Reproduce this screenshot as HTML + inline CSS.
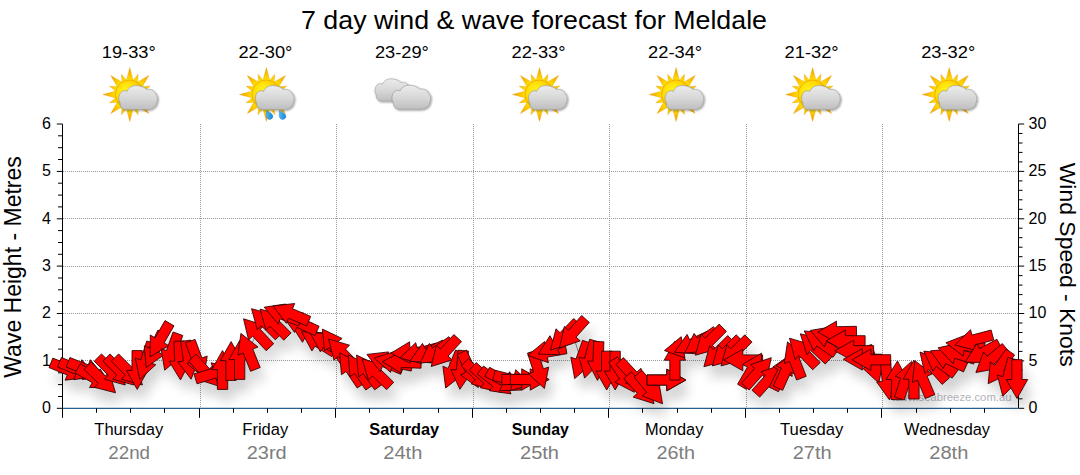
<!DOCTYPE html><html><head><meta charset="utf-8"><style>html,body{margin:0;padding:0;background:#fff}svg{display:block}text{font-family:"Liberation Sans",sans-serif}</style></head><body>
<svg width="1080" height="475" viewBox="0 0 1080 475">
<defs><linearGradient id="cg" x1="0" y1="0" x2="0" y2="1"><stop offset="0" stop-color="#ececec"/><stop offset="0.55" stop-color="#d6d6d6"/><stop offset="1" stop-color="#bebebe"/></linearGradient><radialGradient id="sg" cx="0.38" cy="0.38" r="0.7"><stop offset="0" stop-color="#fff61e"/><stop offset="0.55" stop-color="#ffd800"/><stop offset="1" stop-color="#f2a200"/></radialGradient><radialGradient id="rg" gradientUnits="userSpaceOnUse" cx="0" cy="0" r="27"><stop offset="0.5" stop-color="#ffe600"/><stop offset="0.75" stop-color="#fbc000"/><stop offset="1" stop-color="#ee9a00"/></radialGradient><linearGradient id="dg" x1="0" y1="0" x2="1" y2="1"><stop offset="0" stop-color="#6cc8f8"/><stop offset="1" stop-color="#0c7fd0"/></linearGradient><filter id="cs" x="-20%" y="-20%" width="140%" height="150%"><feGaussianBlur in="SourceAlpha" stdDeviation="0.9"/><feOffset dx="0.8" dy="1.2"/><feComponentTransfer><feFuncA type="linear" slope="0.42"/></feComponentTransfer><feMerge><feMergeNode/><feMergeNode in="SourceGraphic"/></feMerge></filter><filter id="sh" x="-20%" y="-20%" width="140%" height="160%"><feGaussianBlur in="SourceAlpha" stdDeviation="6"/><feOffset dx="5" dy="12"/><feComponentTransfer><feFuncA type="linear" slope="0.18"/></feComponentTransfer></filter></defs>
<rect width="1080" height="475" fill="#fff"/>
<text x="534" y="29" font-size="26" text-anchor="middle" fill="#000" textLength="466" lengthAdjust="spacingAndGlyphs">7 day wind &amp; wave forecast for Meldale</text>
<line x1="62.5" x2="1018.5" y1="360.9" y2="360.9" stroke="#999" stroke-width="1" stroke-dasharray="1 1" shape-rendering="crispEdges"/>
<line x1="62.5" x2="1018.5" y1="313.5" y2="313.5" stroke="#999" stroke-width="1" stroke-dasharray="1 1" shape-rendering="crispEdges"/>
<line x1="62.5" x2="1018.5" y1="266.1" y2="266.1" stroke="#999" stroke-width="1" stroke-dasharray="1 1" shape-rendering="crispEdges"/>
<line x1="62.5" x2="1018.5" y1="218.8" y2="218.8" stroke="#999" stroke-width="1" stroke-dasharray="1 1" shape-rendering="crispEdges"/>
<line x1="62.5" x2="1018.5" y1="171.4" y2="171.4" stroke="#999" stroke-width="1" stroke-dasharray="1 1" shape-rendering="crispEdges"/>
<line x1="200.5" x2="200.5" y1="124.0" y2="408.3" stroke="#999" stroke-width="1" stroke-dasharray="1 1" shape-rendering="crispEdges"/>
<line x1="336.5" x2="336.5" y1="124.0" y2="408.3" stroke="#999" stroke-width="1" stroke-dasharray="1 1" shape-rendering="crispEdges"/>
<line x1="473.5" x2="473.5" y1="124.0" y2="408.3" stroke="#999" stroke-width="1" stroke-dasharray="1 1" shape-rendering="crispEdges"/>
<line x1="609.5" x2="609.5" y1="124.0" y2="408.3" stroke="#999" stroke-width="1" stroke-dasharray="1 1" shape-rendering="crispEdges"/>
<line x1="746.5" x2="746.5" y1="124.0" y2="408.3" stroke="#999" stroke-width="1" stroke-dasharray="1 1" shape-rendering="crispEdges"/>
<line x1="882.5" x2="882.5" y1="124.0" y2="408.3" stroke="#999" stroke-width="1" stroke-dasharray="1 1" shape-rendering="crispEdges"/>
<line x1="62.5" x2="62.5" y1="124.0" y2="408.3" stroke="#000" stroke-width="1"/>
<line x1="56.8" x2="62.5" y1="408.3" y2="408.3" stroke="#000" stroke-width="1"/>
<line x1="58.0" x2="62.5" y1="396.5" y2="396.5" stroke="#000" stroke-width="1"/>
<line x1="58.0" x2="62.5" y1="384.6" y2="384.6" stroke="#000" stroke-width="1"/>
<line x1="58.0" x2="62.5" y1="372.8" y2="372.8" stroke="#000" stroke-width="1"/>
<line x1="56.8" x2="62.5" y1="360.9" y2="360.9" stroke="#000" stroke-width="1"/>
<line x1="58.0" x2="62.5" y1="349.1" y2="349.1" stroke="#000" stroke-width="1"/>
<line x1="58.0" x2="62.5" y1="337.2" y2="337.2" stroke="#000" stroke-width="1"/>
<line x1="58.0" x2="62.5" y1="325.4" y2="325.4" stroke="#000" stroke-width="1"/>
<line x1="56.8" x2="62.5" y1="313.5" y2="313.5" stroke="#000" stroke-width="1"/>
<line x1="58.0" x2="62.5" y1="301.7" y2="301.7" stroke="#000" stroke-width="1"/>
<line x1="58.0" x2="62.5" y1="289.8" y2="289.8" stroke="#000" stroke-width="1"/>
<line x1="58.0" x2="62.5" y1="278.0" y2="278.0" stroke="#000" stroke-width="1"/>
<line x1="56.8" x2="62.5" y1="266.1" y2="266.1" stroke="#000" stroke-width="1"/>
<line x1="58.0" x2="62.5" y1="254.3" y2="254.3" stroke="#000" stroke-width="1"/>
<line x1="58.0" x2="62.5" y1="242.5" y2="242.5" stroke="#000" stroke-width="1"/>
<line x1="58.0" x2="62.5" y1="230.6" y2="230.6" stroke="#000" stroke-width="1"/>
<line x1="56.8" x2="62.5" y1="218.8" y2="218.8" stroke="#000" stroke-width="1"/>
<line x1="58.0" x2="62.5" y1="206.9" y2="206.9" stroke="#000" stroke-width="1"/>
<line x1="58.0" x2="62.5" y1="195.1" y2="195.1" stroke="#000" stroke-width="1"/>
<line x1="58.0" x2="62.5" y1="183.2" y2="183.2" stroke="#000" stroke-width="1"/>
<line x1="56.8" x2="62.5" y1="171.4" y2="171.4" stroke="#000" stroke-width="1"/>
<line x1="58.0" x2="62.5" y1="159.5" y2="159.5" stroke="#000" stroke-width="1"/>
<line x1="58.0" x2="62.5" y1="147.7" y2="147.7" stroke="#000" stroke-width="1"/>
<line x1="58.0" x2="62.5" y1="135.8" y2="135.8" stroke="#000" stroke-width="1"/>
<line x1="56.8" x2="62.5" y1="124.0" y2="124.0" stroke="#000" stroke-width="1"/>
<text x="51" y="413.2" font-size="16" text-anchor="end" fill="#000">0</text>
<text x="51" y="365.8" font-size="16" text-anchor="end" fill="#000">1</text>
<text x="51" y="318.4" font-size="16" text-anchor="end" fill="#000">2</text>
<text x="51" y="271.0" font-size="16" text-anchor="end" fill="#000">3</text>
<text x="51" y="223.7" font-size="16" text-anchor="end" fill="#000">4</text>
<text x="51" y="176.3" font-size="16" text-anchor="end" fill="#000">5</text>
<text x="51" y="128.9" font-size="16" text-anchor="end" fill="#000">6</text>
<line x1="1018.5" x2="1018.5" y1="124.0" y2="408.3" stroke="#000" stroke-width="1"/>
<line x1="1018.5" x2="1024.2" y1="408.3" y2="408.3" stroke="#000" stroke-width="1"/>
<line x1="1018.5" x2="1022.5" y1="398.8" y2="398.8" stroke="#000" stroke-width="1"/>
<line x1="1018.5" x2="1022.5" y1="389.3" y2="389.3" stroke="#000" stroke-width="1"/>
<line x1="1018.5" x2="1022.5" y1="379.9" y2="379.9" stroke="#000" stroke-width="1"/>
<line x1="1018.5" x2="1022.5" y1="370.4" y2="370.4" stroke="#000" stroke-width="1"/>
<line x1="1018.5" x2="1024.2" y1="360.9" y2="360.9" stroke="#000" stroke-width="1"/>
<line x1="1018.5" x2="1022.5" y1="351.4" y2="351.4" stroke="#000" stroke-width="1"/>
<line x1="1018.5" x2="1022.5" y1="342.0" y2="342.0" stroke="#000" stroke-width="1"/>
<line x1="1018.5" x2="1022.5" y1="332.5" y2="332.5" stroke="#000" stroke-width="1"/>
<line x1="1018.5" x2="1022.5" y1="323.0" y2="323.0" stroke="#000" stroke-width="1"/>
<line x1="1018.5" x2="1024.2" y1="313.5" y2="313.5" stroke="#000" stroke-width="1"/>
<line x1="1018.5" x2="1022.5" y1="304.1" y2="304.1" stroke="#000" stroke-width="1"/>
<line x1="1018.5" x2="1022.5" y1="294.6" y2="294.6" stroke="#000" stroke-width="1"/>
<line x1="1018.5" x2="1022.5" y1="285.1" y2="285.1" stroke="#000" stroke-width="1"/>
<line x1="1018.5" x2="1022.5" y1="275.6" y2="275.6" stroke="#000" stroke-width="1"/>
<line x1="1018.5" x2="1024.2" y1="266.1" y2="266.1" stroke="#000" stroke-width="1"/>
<line x1="1018.5" x2="1022.5" y1="256.7" y2="256.7" stroke="#000" stroke-width="1"/>
<line x1="1018.5" x2="1022.5" y1="247.2" y2="247.2" stroke="#000" stroke-width="1"/>
<line x1="1018.5" x2="1022.5" y1="237.7" y2="237.7" stroke="#000" stroke-width="1"/>
<line x1="1018.5" x2="1022.5" y1="228.2" y2="228.2" stroke="#000" stroke-width="1"/>
<line x1="1018.5" x2="1024.2" y1="218.8" y2="218.8" stroke="#000" stroke-width="1"/>
<line x1="1018.5" x2="1022.5" y1="209.3" y2="209.3" stroke="#000" stroke-width="1"/>
<line x1="1018.5" x2="1022.5" y1="199.8" y2="199.8" stroke="#000" stroke-width="1"/>
<line x1="1018.5" x2="1022.5" y1="190.3" y2="190.3" stroke="#000" stroke-width="1"/>
<line x1="1018.5" x2="1022.5" y1="180.9" y2="180.9" stroke="#000" stroke-width="1"/>
<line x1="1018.5" x2="1024.2" y1="171.4" y2="171.4" stroke="#000" stroke-width="1"/>
<line x1="1018.5" x2="1022.5" y1="161.9" y2="161.9" stroke="#000" stroke-width="1"/>
<line x1="1018.5" x2="1022.5" y1="152.4" y2="152.4" stroke="#000" stroke-width="1"/>
<line x1="1018.5" x2="1022.5" y1="143.0" y2="143.0" stroke="#000" stroke-width="1"/>
<line x1="1018.5" x2="1022.5" y1="133.5" y2="133.5" stroke="#000" stroke-width="1"/>
<line x1="1018.5" x2="1024.2" y1="124.0" y2="124.0" stroke="#000" stroke-width="1"/>
<text x="1028.5" y="413.2" font-size="16" text-anchor="start" fill="#000">0</text>
<text x="1028.5" y="365.8" font-size="16" text-anchor="start" fill="#000">5</text>
<text x="1028.5" y="318.4" font-size="16" text-anchor="start" fill="#000">10</text>
<text x="1028.5" y="271.0" font-size="16" text-anchor="start" fill="#000">15</text>
<text x="1028.5" y="223.7" font-size="16" text-anchor="start" fill="#000">20</text>
<text x="1028.5" y="176.3" font-size="16" text-anchor="start" fill="#000">25</text>
<text x="1028.5" y="128.9" font-size="16" text-anchor="start" fill="#000">30</text>
<line x1="62.5" x2="1018.5" y1="408.3" y2="408.3" stroke="#27608f" stroke-width="1.2"/>
<line x1="62.5" x2="62.5" y1="408.3" y2="417.8" stroke="#000" stroke-width="1"/>
<line x1="96.5" x2="96.5" y1="408.3" y2="412.8" stroke="#000" stroke-width="1"/>
<line x1="130.5" x2="130.5" y1="408.3" y2="412.8" stroke="#000" stroke-width="1"/>
<line x1="164.5" x2="164.5" y1="408.3" y2="412.8" stroke="#000" stroke-width="1"/>
<line x1="199.5" x2="199.5" y1="408.3" y2="417.8" stroke="#000" stroke-width="1"/>
<line x1="233.5" x2="233.5" y1="408.3" y2="412.8" stroke="#000" stroke-width="1"/>
<line x1="267.5" x2="267.5" y1="408.3" y2="412.8" stroke="#000" stroke-width="1"/>
<line x1="301.5" x2="301.5" y1="408.3" y2="412.8" stroke="#000" stroke-width="1"/>
<line x1="335.5" x2="335.5" y1="408.3" y2="417.8" stroke="#000" stroke-width="1"/>
<line x1="369.5" x2="369.5" y1="408.3" y2="412.8" stroke="#000" stroke-width="1"/>
<line x1="403.5" x2="403.5" y1="408.3" y2="412.8" stroke="#000" stroke-width="1"/>
<line x1="438.5" x2="438.5" y1="408.3" y2="412.8" stroke="#000" stroke-width="1"/>
<line x1="472.5" x2="472.5" y1="408.3" y2="417.8" stroke="#000" stroke-width="1"/>
<line x1="506.5" x2="506.5" y1="408.3" y2="412.8" stroke="#000" stroke-width="1"/>
<line x1="540.5" x2="540.5" y1="408.3" y2="412.8" stroke="#000" stroke-width="1"/>
<line x1="574.5" x2="574.5" y1="408.3" y2="412.8" stroke="#000" stroke-width="1"/>
<line x1="608.5" x2="608.5" y1="408.3" y2="417.8" stroke="#000" stroke-width="1"/>
<line x1="642.5" x2="642.5" y1="408.3" y2="412.8" stroke="#000" stroke-width="1"/>
<line x1="677.5" x2="677.5" y1="408.3" y2="412.8" stroke="#000" stroke-width="1"/>
<line x1="711.5" x2="711.5" y1="408.3" y2="412.8" stroke="#000" stroke-width="1"/>
<line x1="745.5" x2="745.5" y1="408.3" y2="417.8" stroke="#000" stroke-width="1"/>
<line x1="779.5" x2="779.5" y1="408.3" y2="412.8" stroke="#000" stroke-width="1"/>
<line x1="813.5" x2="813.5" y1="408.3" y2="412.8" stroke="#000" stroke-width="1"/>
<line x1="847.5" x2="847.5" y1="408.3" y2="412.8" stroke="#000" stroke-width="1"/>
<line x1="881.5" x2="881.5" y1="408.3" y2="417.8" stroke="#000" stroke-width="1"/>
<line x1="916.5" x2="916.5" y1="408.3" y2="412.8" stroke="#000" stroke-width="1"/>
<line x1="950.5" x2="950.5" y1="408.3" y2="412.8" stroke="#000" stroke-width="1"/>
<line x1="984.5" x2="984.5" y1="408.3" y2="412.8" stroke="#000" stroke-width="1"/>
<text x="128.8" y="435" font-size="16.3" text-anchor="middle" fill="#000" textLength="69" lengthAdjust="spacingAndGlyphs">Thursday</text>
<text x="129.2" y="459" font-size="18" text-anchor="middle" fill="#7d7d7d" textLength="41.7" lengthAdjust="spacingAndGlyphs">22nd</text>
<text x="128.8" y="58" font-size="17" text-anchor="middle" fill="#000" textLength="54" lengthAdjust="spacingAndGlyphs">19-33°</text>
<text x="265.3" y="435" font-size="16.3" text-anchor="middle" fill="#000" textLength="46" lengthAdjust="spacingAndGlyphs">Friday</text>
<text x="266.7" y="459" font-size="18" text-anchor="middle" fill="#7d7d7d" textLength="40" lengthAdjust="spacingAndGlyphs">23rd</text>
<text x="265.4" y="58" font-size="17" text-anchor="middle" fill="#000" textLength="54" lengthAdjust="spacingAndGlyphs">22-30°</text>
<text x="404.2" y="435" font-size="16.3" text-anchor="middle" fill="#000" font-weight="bold" textLength="69.7" lengthAdjust="spacingAndGlyphs">Saturday</text>
<text x="402.8" y="459" font-size="18" text-anchor="middle" fill="#7d7d7d" textLength="39" lengthAdjust="spacingAndGlyphs">24th</text>
<text x="401.9" y="58" font-size="17" text-anchor="middle" fill="#000" textLength="54" lengthAdjust="spacingAndGlyphs">23-29°</text>
<text x="540.3" y="435" font-size="16.3" text-anchor="middle" fill="#000" font-weight="bold" textLength="57.3" lengthAdjust="spacingAndGlyphs">Sunday</text>
<text x="539.5" y="459" font-size="18" text-anchor="middle" fill="#7d7d7d" textLength="39" lengthAdjust="spacingAndGlyphs">25th</text>
<text x="538.5" y="58" font-size="17" text-anchor="middle" fill="#000" textLength="54" lengthAdjust="spacingAndGlyphs">22-33°</text>
<text x="674.2" y="435" font-size="16.3" text-anchor="middle" fill="#000" textLength="58.3" lengthAdjust="spacingAndGlyphs">Monday</text>
<text x="675.8" y="459" font-size="18" text-anchor="middle" fill="#7d7d7d" textLength="38.5" lengthAdjust="spacingAndGlyphs">26th</text>
<text x="675.1" y="58" font-size="17" text-anchor="middle" fill="#000" textLength="54" lengthAdjust="spacingAndGlyphs">22-34°</text>
<text x="811.7" y="435" font-size="16.3" text-anchor="middle" fill="#000" textLength="63.3" lengthAdjust="spacingAndGlyphs">Tuesday</text>
<text x="812.2" y="459" font-size="18" text-anchor="middle" fill="#7d7d7d" textLength="39" lengthAdjust="spacingAndGlyphs">27th</text>
<text x="811.6" y="58" font-size="17" text-anchor="middle" fill="#000" textLength="54" lengthAdjust="spacingAndGlyphs">21-32°</text>
<text x="947.0" y="435" font-size="16.3" text-anchor="middle" fill="#000" textLength="86" lengthAdjust="spacingAndGlyphs">Wednesday</text>
<text x="948.8" y="459" font-size="18" text-anchor="middle" fill="#7d7d7d" textLength="39" lengthAdjust="spacingAndGlyphs">28th</text>
<text x="948.2" y="58" font-size="17" text-anchor="middle" fill="#000" textLength="54" lengthAdjust="spacingAndGlyphs">23-32°</text>
<text transform="translate(21,267) rotate(-90)" font-size="23" text-anchor="middle" fill="#000">Wave Height - Metres</text>
<text transform="translate(1060.3,264.7) rotate(90)" font-size="22" text-anchor="middle" fill="#000" textLength="204" lengthAdjust="spacingAndGlyphs">Wind Speed - Knots</text>
<g transform="translate(129.8,94.5)"><path d="M-3.9,-12.5 L0.0,-27.0 L3.9,-12.5Z M2.0,-12.7 L8.4,-20.3 L7.6,-10.4Z M6.1,-11.6 L19.1,-19.1 L11.6,-6.1Z M10.4,-7.6 L20.3,-8.4 L12.7,-2.0Z M12.5,-3.9 L27.0,0.0 L12.5,3.9Z M12.7,2.0 L20.3,8.4 L10.4,7.6Z M11.6,6.1 L19.1,19.1 L6.1,11.6Z M7.6,10.4 L8.4,20.3 L2.0,12.7Z M3.9,12.5 L0.0,27.0 L-3.9,12.5Z M-2.0,12.7 L-8.4,20.3 L-7.6,10.4Z M-6.1,11.6 L-19.1,19.1 L-11.6,6.1Z M-10.4,7.6 L-20.3,8.4 L-12.7,2.0Z M-12.5,3.9 L-27.0,0.0 L-12.5,-3.9Z M-12.7,-2.0 L-20.3,-8.4 L-10.4,-7.6Z M-11.6,-6.1 L-19.1,-19.1 L-6.1,-11.6Z M-7.6,-10.4 L-8.4,-20.3 L-2.0,-12.7Z" fill="url(#rg)" stroke="#e89a00" stroke-width="0.3"/><circle r="14.5" fill="url(#sg)" stroke="#eda000" stroke-width="0.7"/></g><g transform="translate(118.9,85.6) scale(1.0)" filter="url(#cs)"><path d="M7,24 C3.5,24 0.8,21 1.2,17 C-0.6,15 -0.6,10 1.5,7.5 C3,5 6,4.5 8,5.8 C9.5,2 13,0 17,0 C22,0 26,2 28,4 C31,3 35,4.5 36.5,8 C39,10 39,15 37.5,17.5 C37.5,21 33,24 28.4,24 Z" fill="url(#cg)" stroke="#9a9a9a" stroke-width="0.6"/></g>
<g transform="translate(266.4,94.5)"><path d="M-3.9,-12.5 L0.0,-27.0 L3.9,-12.5Z M2.0,-12.7 L8.4,-20.3 L7.6,-10.4Z M6.1,-11.6 L19.1,-19.1 L11.6,-6.1Z M10.4,-7.6 L20.3,-8.4 L12.7,-2.0Z M12.5,-3.9 L27.0,0.0 L12.5,3.9Z M12.7,2.0 L20.3,8.4 L10.4,7.6Z M11.6,6.1 L19.1,19.1 L6.1,11.6Z M7.6,10.4 L8.4,20.3 L2.0,12.7Z M3.9,12.5 L0.0,27.0 L-3.9,12.5Z M-2.0,12.7 L-8.4,20.3 L-7.6,10.4Z M-6.1,11.6 L-19.1,19.1 L-11.6,6.1Z M-10.4,7.6 L-20.3,8.4 L-12.7,2.0Z M-12.5,3.9 L-27.0,0.0 L-12.5,-3.9Z M-12.7,-2.0 L-20.3,-8.4 L-10.4,-7.6Z M-11.6,-6.1 L-19.1,-19.1 L-6.1,-11.6Z M-7.6,-10.4 L-8.4,-20.3 L-2.0,-12.7Z" fill="url(#rg)" stroke="#e89a00" stroke-width="0.3"/><circle r="14.5" fill="url(#sg)" stroke="#eda000" stroke-width="0.7"/></g><path transform="translate(269.0,115.2) rotate(-30)" d="M0,-5.2 C1.2,-3 3.2,-1 3.2,1.2 A3.2,3.2 0 1 1 -3.2,1.2 C-3.2,-1 -1.2,-3 0,-5.2Z" fill="url(#dg)" stroke="#1a86d0" stroke-width="0.4"/><path transform="translate(282.0,115.2) rotate(-30)" d="M0,-5.2 C1.2,-3 3.2,-1 3.2,1.2 A3.2,3.2 0 1 1 -3.2,1.2 C-3.2,-1 -1.2,-3 0,-5.2Z" fill="url(#dg)" stroke="#1a86d0" stroke-width="0.4"/><g transform="translate(255.5,85.6) scale(1.0)" filter="url(#cs)"><path d="M7,24 C3.5,24 0.8,21 1.2,17 C-0.6,15 -0.6,10 1.5,7.5 C3,5 6,4.5 8,5.8 C9.5,2 13,0 17,0 C22,0 26,2 28,4 C31,3 35,4.5 36.5,8 C39,10 39,15 37.5,17.5 C37.5,21 33,24 28.4,24 Z" fill="url(#cg)" stroke="#9a9a9a" stroke-width="0.6"/></g>
<g transform="translate(375.0,78.8) scale(0.93)" filter="url(#cs)"><path d="M7,24 C3.5,24 0.8,21 1.2,17 C-0.6,15 -0.6,10 1.5,7.5 C3,5 6,4.5 8,5.8 C9.5,2 13,0 17,0 C22,0 26,2 28,4 C31,3 35,4.5 36.5,8 C39,10 39,15 37.5,17.5 C37.5,21 33,24 28.4,24 Z" fill="url(#cg)" stroke="#9a9a9a" stroke-width="0.6"/></g><g transform="translate(392.1,85.2) scale(1.0)" filter="url(#cs)"><path d="M7,24 C3.5,24 0.8,21 1.2,17 C-0.6,15 -0.6,10 1.5,7.5 C3,5 6,4.5 8,5.8 C9.5,2 13,0 17,0 C22,0 26,2 28,4 C31,3 35,4.5 36.5,8 C39,10 39,15 37.5,17.5 C37.5,21 33,24 28.4,24 Z" fill="url(#cg)" stroke="#9a9a9a" stroke-width="0.6"/></g>
<g transform="translate(539.5,94.5)"><path d="M-3.9,-12.5 L0.0,-27.0 L3.9,-12.5Z M2.0,-12.7 L8.4,-20.3 L7.6,-10.4Z M6.1,-11.6 L19.1,-19.1 L11.6,-6.1Z M10.4,-7.6 L20.3,-8.4 L12.7,-2.0Z M12.5,-3.9 L27.0,0.0 L12.5,3.9Z M12.7,2.0 L20.3,8.4 L10.4,7.6Z M11.6,6.1 L19.1,19.1 L6.1,11.6Z M7.6,10.4 L8.4,20.3 L2.0,12.7Z M3.9,12.5 L0.0,27.0 L-3.9,12.5Z M-2.0,12.7 L-8.4,20.3 L-7.6,10.4Z M-6.1,11.6 L-19.1,19.1 L-11.6,6.1Z M-10.4,7.6 L-20.3,8.4 L-12.7,2.0Z M-12.5,3.9 L-27.0,0.0 L-12.5,-3.9Z M-12.7,-2.0 L-20.3,-8.4 L-10.4,-7.6Z M-11.6,-6.1 L-19.1,-19.1 L-6.1,-11.6Z M-7.6,-10.4 L-8.4,-20.3 L-2.0,-12.7Z" fill="url(#rg)" stroke="#e89a00" stroke-width="0.3"/><circle r="14.5" fill="url(#sg)" stroke="#eda000" stroke-width="0.7"/></g><g transform="translate(528.6,85.6) scale(1.0)" filter="url(#cs)"><path d="M7,24 C3.5,24 0.8,21 1.2,17 C-0.6,15 -0.6,10 1.5,7.5 C3,5 6,4.5 8,5.8 C9.5,2 13,0 17,0 C22,0 26,2 28,4 C31,3 35,4.5 36.5,8 C39,10 39,15 37.5,17.5 C37.5,21 33,24 28.4,24 Z" fill="url(#cg)" stroke="#9a9a9a" stroke-width="0.6"/></g>
<g transform="translate(676.1,94.5)"><path d="M-3.9,-12.5 L0.0,-27.0 L3.9,-12.5Z M2.0,-12.7 L8.4,-20.3 L7.6,-10.4Z M6.1,-11.6 L19.1,-19.1 L11.6,-6.1Z M10.4,-7.6 L20.3,-8.4 L12.7,-2.0Z M12.5,-3.9 L27.0,0.0 L12.5,3.9Z M12.7,2.0 L20.3,8.4 L10.4,7.6Z M11.6,6.1 L19.1,19.1 L6.1,11.6Z M7.6,10.4 L8.4,20.3 L2.0,12.7Z M3.9,12.5 L0.0,27.0 L-3.9,12.5Z M-2.0,12.7 L-8.4,20.3 L-7.6,10.4Z M-6.1,11.6 L-19.1,19.1 L-11.6,6.1Z M-10.4,7.6 L-20.3,8.4 L-12.7,2.0Z M-12.5,3.9 L-27.0,0.0 L-12.5,-3.9Z M-12.7,-2.0 L-20.3,-8.4 L-10.4,-7.6Z M-11.6,-6.1 L-19.1,-19.1 L-6.1,-11.6Z M-7.6,-10.4 L-8.4,-20.3 L-2.0,-12.7Z" fill="url(#rg)" stroke="#e89a00" stroke-width="0.3"/><circle r="14.5" fill="url(#sg)" stroke="#eda000" stroke-width="0.7"/></g><g transform="translate(665.2,85.6) scale(1.0)" filter="url(#cs)"><path d="M7,24 C3.5,24 0.8,21 1.2,17 C-0.6,15 -0.6,10 1.5,7.5 C3,5 6,4.5 8,5.8 C9.5,2 13,0 17,0 C22,0 26,2 28,4 C31,3 35,4.5 36.5,8 C39,10 39,15 37.5,17.5 C37.5,21 33,24 28.4,24 Z" fill="url(#cg)" stroke="#9a9a9a" stroke-width="0.6"/></g>
<g transform="translate(812.6,94.5)"><path d="M-3.9,-12.5 L0.0,-27.0 L3.9,-12.5Z M2.0,-12.7 L8.4,-20.3 L7.6,-10.4Z M6.1,-11.6 L19.1,-19.1 L11.6,-6.1Z M10.4,-7.6 L20.3,-8.4 L12.7,-2.0Z M12.5,-3.9 L27.0,0.0 L12.5,3.9Z M12.7,2.0 L20.3,8.4 L10.4,7.6Z M11.6,6.1 L19.1,19.1 L6.1,11.6Z M7.6,10.4 L8.4,20.3 L2.0,12.7Z M3.9,12.5 L0.0,27.0 L-3.9,12.5Z M-2.0,12.7 L-8.4,20.3 L-7.6,10.4Z M-6.1,11.6 L-19.1,19.1 L-11.6,6.1Z M-10.4,7.6 L-20.3,8.4 L-12.7,2.0Z M-12.5,3.9 L-27.0,0.0 L-12.5,-3.9Z M-12.7,-2.0 L-20.3,-8.4 L-10.4,-7.6Z M-11.6,-6.1 L-19.1,-19.1 L-6.1,-11.6Z M-7.6,-10.4 L-8.4,-20.3 L-2.0,-12.7Z" fill="url(#rg)" stroke="#e89a00" stroke-width="0.3"/><circle r="14.5" fill="url(#sg)" stroke="#eda000" stroke-width="0.7"/></g><g transform="translate(801.7,85.6) scale(1.0)" filter="url(#cs)"><path d="M7,24 C3.5,24 0.8,21 1.2,17 C-0.6,15 -0.6,10 1.5,7.5 C3,5 6,4.5 8,5.8 C9.5,2 13,0 17,0 C22,0 26,2 28,4 C31,3 35,4.5 36.5,8 C39,10 39,15 37.5,17.5 C37.5,21 33,24 28.4,24 Z" fill="url(#cg)" stroke="#9a9a9a" stroke-width="0.6"/></g>
<g transform="translate(949.2,94.5)"><path d="M-3.9,-12.5 L0.0,-27.0 L3.9,-12.5Z M2.0,-12.7 L8.4,-20.3 L7.6,-10.4Z M6.1,-11.6 L19.1,-19.1 L11.6,-6.1Z M10.4,-7.6 L20.3,-8.4 L12.7,-2.0Z M12.5,-3.9 L27.0,0.0 L12.5,3.9Z M12.7,2.0 L20.3,8.4 L10.4,7.6Z M11.6,6.1 L19.1,19.1 L6.1,11.6Z M7.6,10.4 L8.4,20.3 L2.0,12.7Z M3.9,12.5 L0.0,27.0 L-3.9,12.5Z M-2.0,12.7 L-8.4,20.3 L-7.6,10.4Z M-6.1,11.6 L-19.1,19.1 L-11.6,6.1Z M-10.4,7.6 L-20.3,8.4 L-12.7,2.0Z M-12.5,3.9 L-27.0,0.0 L-12.5,-3.9Z M-12.7,-2.0 L-20.3,-8.4 L-10.4,-7.6Z M-11.6,-6.1 L-19.1,-19.1 L-6.1,-11.6Z M-7.6,-10.4 L-8.4,-20.3 L-2.0,-12.7Z" fill="url(#rg)" stroke="#e89a00" stroke-width="0.3"/><circle r="14.5" fill="url(#sg)" stroke="#eda000" stroke-width="0.7"/></g><g transform="translate(938.3,85.6) scale(1.0)" filter="url(#cs)"><path d="M7,24 C3.5,24 0.8,21 1.2,17 C-0.6,15 -0.6,10 1.5,7.5 C3,5 6,4.5 8,5.8 C9.5,2 13,0 17,0 C22,0 26,2 28,4 C31,3 35,4.5 36.5,8 C39,10 39,15 37.5,17.5 C37.5,21 33,24 28.4,24 Z" fill="url(#cg)" stroke="#9a9a9a" stroke-width="0.6"/></g>
<text x="1011.5" y="400.5" font-size="11.3" text-anchor="end" fill="#b4b4bc">www.seabreeze.com.au</text>
<polyline points="68.9,370.1 77.4,369.5 86.0,369.5 94.5,378.0 101.5,379.3 111.6,371.3 120.1,371.3 128.7,371.3 137.2,370.0 145.7,361.0 154.3,350.0 159.8,340.0 171.3,352.0 179.9,360.5 188.4,360.0 196.9,359.4 205.5,371.9 214.0,373.2 222.5,370.0 231.1,361.0 239.6,360.0 248.2,351.4 256.7,333.0 265.2,322.4 273.8,322.8 282.3,314.2 290.8,313.6 299.4,322.8 307.9,333.0 317.9,342.0 326.5,343.0 333.5,345.0 342.0,353.0 350.6,369.0 359.1,371.0 367.7,371.0 376.2,372.5 384.7,362.0 393.3,362.0 401.8,362.4 410.3,352.5 418.9,353.0 427.4,353.0 435.9,352.0 444.5,352.3 453.0,370.0 461.5,370.0 470.1,370.0 478.6,376.0 487.2,379.4 495.7,382.0 504.2,381.0 512.8,380.0 521.3,379.5 529.8,379.5 538.4,370.0 546.9,352.0 555.4,345.0 564.0,336.0 572.5,333.4 581.0,360.3 589.6,359.4 598.1,361.0 606.7,370.6 615.2,370.6 623.7,376.0 632.9,375.3 640.8,389.5 650.3,388.7 666.4,380.0 666.4,380.0 674.9,360.6 683.5,347.2 692.0,344.0 700.5,342.0 709.1,341.5 717.6,353.0 726.2,352.2 734.7,352.2 743.2,360.0 751.8,370.0 758.3,372.1 768.8,379.2 782.4,372.0 785.9,370.5 794.4,360.0 803.0,352.2 814.5,347.0 820.0,342.0 828.6,337.0 837.1,331.8 845.7,340.8 854.2,350.8 862.7,359.3 871.3,359.8 872.8,364.5 887.3,380.5 896.9,380.3 905.4,380.0 913.9,379.6 922.5,378.6 933.0,366.5 939.5,362.5 948.1,359.0 956.6,353.5 965.2,345.5 973.7,340.0 982.2,353.0 990.8,360.0 999.3,367.8 1007.8,377.5 1017.0,379.1" fill="none" stroke="#8a8a8a" stroke-width="1"/>
<g filter="url(#sh)" fill="#000"><path d="M52.8,358.1 L71.2,365.5 L73.3,360.3 L86.9,377.4 L65.2,380.2 L67.3,375.0 L49.0,367.6Z"/><path d="M61.4,357.5 L79.7,364.9 L81.8,359.7 L95.4,376.8 L73.8,379.6 L75.9,374.4 L57.5,367.0Z"/><path d="M69.9,357.5 L88.3,364.9 L90.4,359.7 L104.0,376.8 L82.3,379.6 L84.4,374.4 L66.1,367.0Z"/><path d="M80.3,363.8 L97.4,373.7 L100.2,368.9 L111.3,387.7 L89.5,387.5 L92.3,382.7 L75.1,372.8Z"/><path d="M91.2,362.1 L105.4,375.9 L109.3,371.8 L115.5,392.8 L94.4,387.3 L98.3,383.3 L84.0,369.5Z"/><path d="M101.5,353.9 L115.5,367.9 L119.5,364.0 L125.3,385.0 L104.3,379.2 L108.2,375.2 L94.2,361.2Z"/><path d="M110.0,353.9 L124.0,367.9 L128.0,364.0 L133.8,385.0 L112.8,379.2 L116.8,375.2 L102.8,361.2Z"/><path d="M118.6,353.9 L132.6,367.9 L136.5,364.0 L142.4,385.0 L121.3,379.2 L125.3,375.2 L111.3,361.2Z"/><path d="M142.3,350.6 L142.3,370.4 L147.9,370.4 L137.2,389.4 L126.4,370.4 L132.0,370.4 L132.0,350.6Z"/><path d="M156.6,344.1 L150.5,363.0 L155.8,364.7 L139.7,379.5 L135.4,358.1 L140.7,359.8 L146.8,341.0Z"/><path d="M167.1,334.6 L158.8,352.5 L163.8,354.9 L146.1,367.6 L144.3,345.8 L149.4,348.2 L157.8,330.2Z"/><path d="M174.0,325.8 L164.1,342.9 L168.9,345.7 L150.1,356.8 L150.3,335.0 L155.1,337.8 L165.0,320.6Z"/><path d="M182.8,335.5 L176.0,354.1 L181.3,356.1 L164.7,370.2 L161.1,348.7 L166.4,350.6 L173.1,332.0Z"/><path d="M184.3,340.9 L185.0,360.7 L190.6,360.5 L180.5,379.9 L169.1,361.3 L174.7,361.1 L174.0,341.3Z"/><path d="M190.8,340.1 L193.6,359.7 L199.1,358.9 L191.1,379.2 L177.8,361.9 L183.4,361.1 L180.6,341.5Z"/><path d="M195.1,339.4 L201.9,358.0 L207.2,356.1 L203.6,377.6 L187.0,363.5 L192.2,361.5 L185.5,342.9Z"/><path d="M196.0,354.2 L209.5,368.7 L213.6,364.9 L218.7,386.1 L197.9,379.5 L202.0,375.7 L188.5,361.2Z"/><path d="M194.0,373.9 L212.9,368.2 L211.2,362.8 L232.6,367.5 L217.5,383.4 L215.9,378.0 L197.0,383.8Z"/><path d="M217.4,389.4 L217.4,369.6 L211.8,369.6 L222.5,350.6 L233.3,369.6 L227.7,369.6 L227.7,389.4Z"/><path d="M225.9,380.4 L225.9,360.6 L220.3,360.6 L231.1,341.6 L241.8,360.6 L236.2,360.6 L236.2,380.4Z"/><path d="M234.5,379.4 L234.5,359.6 L228.9,359.6 L239.6,340.6 L250.4,359.6 L244.8,359.6 L244.8,379.4Z"/><path d="M250.6,371.3 L243.2,353.0 L238.0,355.1 L240.9,333.4 L258.0,347.0 L252.8,349.1 L260.2,367.5Z"/><path d="M266.2,350.7 L252.6,336.2 L248.6,340.0 L243.5,318.8 L264.3,325.4 L260.2,329.2 L273.7,343.7Z"/><path d="M275.3,339.8 L261.3,325.8 L257.3,329.7 L251.5,308.7 L272.5,314.5 L268.6,318.5 L282.6,332.5Z"/><path d="M283.8,340.2 L269.8,326.2 L265.9,330.1 L260.0,309.1 L281.1,314.9 L277.1,318.9 L291.1,332.9Z"/><path d="M322.6,346.7 L305.1,337.4 L302.5,342.3 L290.8,323.9 L312.6,323.3 L310.0,328.3 L327.4,337.6Z"/><path d="M331.7,356.6 L314.9,346.2 L311.9,350.9 L301.5,331.7 L323.3,332.7 L320.3,337.4 L337.1,347.9Z"/><path d="M340.2,357.6 L323.4,347.2 L320.4,351.9 L310.0,332.7 L331.8,333.7 L328.9,338.4 L345.7,348.9Z"/><path d="M314.8,335.7 L296.8,327.3 L294.5,332.4 L281.8,314.6 L303.5,312.9 L301.2,318.0 L319.1,326.3Z"/><path d="M298.6,326.0 L280.1,318.9 L278.1,324.1 L264.2,307.2 L285.8,304.0 L283.8,309.2 L302.3,316.3Z"/><path d="M306.7,325.9 L288.4,318.2 L286.3,323.3 L273.0,306.0 L294.7,303.5 L292.5,308.7 L310.7,316.4Z"/><path d="M340.4,363.8 L329.1,347.6 L324.5,350.8 L322.4,329.1 L342.1,338.5 L337.5,341.7 L348.9,357.9Z"/><path d="M351.8,370.5 L338.1,356.3 L334.0,360.2 L328.6,339.0 L349.5,345.2 L345.5,349.1 L359.2,363.4Z"/><path d="M357.2,388.0 L346.1,371.5 L341.4,374.7 L339.7,352.9 L359.3,362.7 L354.6,365.8 L365.7,382.2Z"/><path d="M365.7,390.0 L354.6,373.5 L350.0,376.7 L348.3,354.9 L367.8,364.7 L363.2,367.8 L374.2,384.2Z"/><path d="M374.6,389.8 L363.2,373.6 L358.6,376.8 L356.5,355.1 L376.2,364.5 L371.6,367.7 L383.0,383.9Z"/><path d="M386.6,389.7 L372.3,375.9 L368.4,380.0 L362.2,359.0 L383.4,364.5 L379.5,368.5 L393.7,382.3Z"/><path d="M400.6,374.3 L382.3,366.6 L380.2,371.7 L366.9,354.4 L388.6,351.9 L386.4,357.1 L404.6,364.8Z"/><path d="M411.2,371.1 L391.8,367.0 L390.6,372.4 L374.3,358.0 L395.1,351.4 L393.9,356.9 L413.3,361.0Z"/><path d="M421.0,368.2 L401.2,367.5 L401.0,373.1 L382.4,361.7 L401.8,351.6 L401.6,357.2 L421.4,357.9Z"/><path d="M429.9,357.0 L410.1,357.7 L410.3,363.3 L390.9,353.2 L409.6,341.8 L409.8,347.4 L429.5,346.7Z"/><path d="M438.9,353.0 L419.8,358.1 L421.3,363.5 L400.1,358.0 L415.7,342.7 L417.1,348.1 L436.3,343.0Z"/><path d="M447.2,349.5 L429.2,357.8 L431.6,362.9 L409.8,361.2 L422.5,343.4 L424.9,348.5 L442.8,340.1Z"/><path d="M454.8,345.1 L438.6,356.4 L441.8,361.0 L420.0,363.1 L429.4,343.4 L432.7,348.0 L448.9,336.7Z"/><path d="M461.5,341.6 L448.0,356.1 L452.1,359.9 L431.2,366.5 L436.3,345.3 L440.4,349.1 L453.9,334.6Z"/><path d="M465.1,353.9 L457.6,372.3 L462.8,374.4 L445.7,388.0 L442.9,366.3 L448.1,368.4 L455.5,350.1Z"/><path d="M468.4,351.1 L466.6,370.8 L472.2,371.3 L459.9,389.3 L450.8,369.5 L456.4,369.9 L458.1,350.2Z"/><path d="M466.5,350.2 L474.9,368.2 L480.0,365.8 L478.3,387.6 L460.5,374.9 L465.6,372.5 L457.2,354.6Z"/><path d="M468.5,358.6 L482.5,372.6 L486.5,368.7 L492.3,389.7 L471.3,383.9 L475.3,379.9 L461.3,365.9Z"/><path d="M476.2,362.6 L490.9,375.8 L494.6,371.7 L501.6,392.4 L480.3,387.7 L484.0,383.5 L469.3,370.2Z"/><path d="M483.6,366.0 L499.2,378.2 L502.6,373.8 L511.0,393.9 L489.4,390.7 L492.8,386.3 L477.2,374.1Z"/><path d="M489.5,367.3 L507.0,376.6 L509.6,371.7 L521.4,390.1 L499.5,390.7 L502.2,385.7 L484.7,376.4Z"/><path d="M495.2,370.3 L514.4,375.1 L515.7,369.7 L531.6,384.7 L510.5,390.5 L511.9,385.1 L492.7,380.3Z"/><path d="M501.9,374.4 L521.7,374.4 L521.7,368.8 L540.7,379.5 L521.7,390.2 L521.7,384.6 L501.9,384.6Z"/><path d="M510.4,374.4 L530.2,374.4 L530.2,368.8 L549.2,379.5 L530.2,390.2 L530.2,384.6 L510.4,384.6Z"/><path d="M537.3,350.0 L543.4,368.8 L548.7,367.1 L544.4,388.5 L528.3,373.7 L533.6,372.0 L527.5,353.1Z"/><path d="M566.9,353.7 L547.4,357.1 L548.4,362.7 L527.8,355.4 L544.6,341.5 L545.6,347.0 L565.1,343.6Z"/><path d="M575.0,340.4 L557.5,349.7 L560.1,354.7 L538.3,354.1 L550.0,335.7 L552.7,340.6 L570.1,331.3Z"/><path d="M581.2,325.6 L567.4,339.9 L571.4,343.8 L550.5,350.0 L556.0,328.8 L560.0,332.7 L573.7,318.5Z"/><path d="M589.3,322.4 L576.1,337.1 L580.2,340.9 L559.5,347.8 L564.3,326.5 L568.4,330.3 L581.7,315.5Z"/><path d="M592.2,343.6 L585.8,362.4 L591.1,364.2 L574.7,378.6 L570.8,357.2 L576.0,359.0 L582.5,340.3Z"/><path d="M599.6,342.0 L594.5,361.1 L599.9,362.6 L584.6,378.1 L579.1,357.0 L584.5,358.5 L589.6,339.3Z"/><path d="M603.9,341.8 L603.2,361.6 L608.8,361.8 L597.4,380.4 L587.4,361.0 L593.0,361.2 L593.6,341.4Z"/><path d="M611.8,351.2 L611.8,371.0 L617.4,371.0 L606.7,390.0 L595.9,371.0 L601.5,371.0 L601.5,351.2Z"/><path d="M620.3,351.2 L620.3,371.0 L625.9,371.0 L615.2,390.0 L604.4,371.0 L610.0,371.0 L610.0,351.2Z"/><path d="M617.5,356.9 L628.3,373.5 L633.0,370.5 L634.3,392.3 L614.9,382.2 L619.6,379.1 L608.8,362.5Z"/><path d="M623.4,357.6 L636.9,372.1 L641.0,368.3 L646.1,389.5 L625.3,382.9 L629.4,379.1 L615.9,364.6Z"/><path d="M631.3,371.8 L644.8,386.3 L648.9,382.5 L654.0,403.7 L633.2,397.1 L637.3,393.3 L623.8,378.8Z"/><path d="M642.1,370.4 L654.6,385.8 L658.9,382.2 L662.5,403.8 L642.2,395.8 L646.6,392.3 L634.1,376.9Z"/><path d="M647.0,374.9 L666.8,374.9 L666.8,369.2 L685.8,380.0 L666.8,390.8 L666.8,385.1 L647.0,385.1Z"/><path d="M647.0,374.9 L666.8,374.9 L666.8,369.2 L685.8,380.0 L666.8,390.8 L666.8,385.1 L647.0,385.1Z"/><path d="M669.8,380.0 L669.8,360.2 L664.2,360.2 L674.9,341.2 L685.7,360.2 L680.1,360.2 L680.1,380.0Z"/><path d="M703.5,348.9 L684.0,352.3 L684.9,357.9 L664.4,350.6 L681.2,336.7 L682.2,342.2 L701.7,338.8Z"/><path d="M711.8,340.5 L693.8,348.8 L696.2,353.9 L674.4,352.2 L687.1,334.4 L689.5,339.5 L707.4,331.1Z"/><path d="M719.4,335.1 L703.2,346.4 L706.4,351.0 L684.7,353.1 L694.1,333.4 L697.3,338.0 L713.5,326.7Z"/><path d="M726.4,331.4 L712.4,345.4 L716.4,349.4 L695.4,355.2 L701.2,334.2 L705.2,338.1 L719.2,324.1Z"/><path d="M735.0,342.9 L721.0,356.9 L724.9,360.9 L703.9,366.7 L709.7,345.7 L713.7,349.6 L727.7,335.6Z"/><path d="M743.5,342.1 L729.5,356.1 L733.5,360.1 L712.4,365.9 L718.3,344.9 L722.2,348.8 L736.2,334.8Z"/><path d="M752.0,342.1 L738.0,356.1 L742.0,360.1 L721.0,365.9 L726.8,344.9 L730.8,348.8 L744.8,334.8Z"/><path d="M762.6,365.1 L742.8,365.1 L742.8,370.8 L723.8,360.0 L742.8,349.2 L742.8,354.9 L762.6,354.9Z"/><path d="M737.6,384.2 L747.5,367.1 L742.6,364.3 L761.5,353.2 L761.3,375.0 L756.4,372.2 L746.5,389.4Z"/><path d="M741.5,383.1 L754.7,368.4 L750.6,364.6 L771.3,357.7 L766.6,379.0 L762.4,375.2 L749.1,390.0Z"/><path d="M752.0,390.2 L765.3,375.5 L761.1,371.7 L781.8,364.8 L777.1,386.1 L772.9,382.3 L759.7,397.1Z"/><path d="M769.2,387.2 L777.9,369.4 L772.9,366.9 L790.9,354.6 L792.2,376.4 L787.2,373.9 L778.5,391.7Z"/><path d="M773.3,386.1 L781.4,368.0 L776.2,365.8 L793.8,352.8 L795.9,374.5 L790.8,372.2 L782.7,390.3Z"/><path d="M796.6,380.0 L789.5,361.5 L784.3,363.5 L787.5,341.9 L804.3,355.8 L799.1,357.8 L806.2,376.3Z"/><path d="M812.7,369.7 L799.0,355.5 L795.0,359.4 L789.5,338.2 L810.4,344.4 L806.4,348.3 L820.2,362.6Z"/><path d="M825.2,364.0 L810.7,350.5 L806.9,354.6 L800.3,333.8 L821.5,338.9 L817.7,343.0 L832.2,356.5Z"/><path d="M833.0,357.3 L816.8,346.0 L813.6,350.6 L804.2,330.9 L825.9,333.0 L822.7,337.6 L838.9,348.9Z"/><path d="M845.0,348.5 L826.4,341.7 L824.5,347.0 L810.4,330.4 L831.9,326.8 L830.0,332.0 L848.6,338.8Z"/><path d="M856.6,336.6 L836.8,337.0 L836.9,342.6 L817.7,332.1 L836.5,321.1 L836.6,326.7 L856.4,326.3Z"/><path d="M871.7,344.5 L877.8,363.3 L883.1,361.6 L878.8,383.0 L862.7,368.2 L868.0,366.5 L861.9,347.6Z"/><path d="M865.1,345.9 L845.3,345.9 L845.3,351.6 L826.3,340.8 L845.3,330.1 L845.3,335.7 L865.1,335.7Z"/><path d="M873.6,355.9 L853.8,355.9 L853.8,361.6 L834.8,350.8 L853.8,340.1 L853.8,345.7 L873.6,345.7Z"/><path d="M890.4,360.7 L892.5,380.4 L898.1,379.8 L889.4,399.8 L876.7,382.0 L882.3,381.4 L880.2,361.7Z"/><path d="M882.1,364.4 L862.3,364.4 L862.3,370.1 L843.3,359.3 L862.3,348.6 L862.3,354.2 L882.1,354.2Z"/><path d="M890.7,364.9 L870.9,364.9 L870.9,370.6 L851.9,359.8 L870.9,349.1 L870.9,354.7 L890.7,354.7Z"/><path d="M891.0,399.5 L891.7,379.7 L886.1,379.5 L897.5,360.9 L907.6,380.3 L902.0,380.1 L901.3,399.9Z"/><path d="M894.5,396.9 L900.6,378.0 L895.3,376.3 L911.4,361.5 L915.7,382.9 L910.4,381.2 L904.3,400.0Z"/><path d="M908.8,399.0 L908.8,379.2 L903.2,379.2 L913.9,360.2 L924.7,379.2 L919.1,379.2 L919.1,399.0Z"/><path d="M925.3,398.5 L917.6,380.2 L912.4,382.4 L914.9,360.7 L932.2,374.0 L927.1,376.2 L934.8,394.4Z"/><path d="M942.2,384.4 L928.9,369.6 L924.8,373.4 L920.0,352.1 L940.7,359.0 L936.6,362.8 L949.8,377.5Z"/><path d="M952.2,378.1 L936.2,366.4 L932.9,371.0 L923.8,351.1 L945.5,353.6 L942.2,358.1 L958.3,369.7Z"/><path d="M963.5,371.9 L945.5,363.5 L943.2,368.6 L930.5,350.8 L952.3,349.1 L949.9,354.2 L967.8,362.5Z"/><path d="M973.7,364.1 L954.7,358.3 L953.1,363.7 L938.1,347.8 L959.4,343.1 L957.7,348.5 L976.7,354.2Z"/><path d="M983.6,353.3 L964.0,350.5 L963.3,356.1 L945.9,342.8 L966.3,334.8 L965.5,340.3 L985.1,343.1Z"/><path d="M993.8,340.0 L974.6,345.1 L976.1,350.5 L954.9,345.0 L970.5,329.7 L972.0,335.1 L991.1,330.0Z"/><path d="M1001.8,348.4 L984.3,357.7 L986.9,362.7 L965.1,362.1 L976.8,343.7 L979.5,348.6 L996.9,339.3Z"/><path d="M1008.9,351.5 L993.8,364.2 L997.4,368.5 L975.9,372.5 L983.5,352.0 L987.1,356.3 L1002.3,343.6Z"/><path d="M1014.6,354.9 L1003.3,371.1 L1007.9,374.3 L988.2,383.7 L990.3,362.0 L994.8,365.2 L1006.2,349.0Z"/><path d="M1017.8,360.1 L1012.7,379.2 L1018.1,380.7 L1002.8,396.2 L997.3,375.1 L1002.8,376.6 L1007.9,357.4Z"/><path d="M1022.1,359.7 L1022.1,379.5 L1027.7,379.5 L1017.0,398.5 L1006.2,379.5 L1011.8,379.5 L1011.8,359.7Z"/></g>
<g fill="#ff0000" stroke="#2a0000" stroke-width="0.85" stroke-linejoin="miter"><path d="M52.8,358.1 L71.2,365.5 L73.3,360.3 L86.9,377.4 L65.2,380.2 L67.3,375.0 L49.0,367.6Z"/><path d="M61.4,357.5 L79.7,364.9 L81.8,359.7 L95.4,376.8 L73.8,379.6 L75.9,374.4 L57.5,367.0Z"/><path d="M69.9,357.5 L88.3,364.9 L90.4,359.7 L104.0,376.8 L82.3,379.6 L84.4,374.4 L66.1,367.0Z"/><path d="M80.3,363.8 L97.4,373.7 L100.2,368.9 L111.3,387.7 L89.5,387.5 L92.3,382.7 L75.1,372.8Z"/><path d="M91.2,362.1 L105.4,375.9 L109.3,371.8 L115.5,392.8 L94.4,387.3 L98.3,383.3 L84.0,369.5Z"/><path d="M101.5,353.9 L115.5,367.9 L119.5,364.0 L125.3,385.0 L104.3,379.2 L108.2,375.2 L94.2,361.2Z"/><path d="M110.0,353.9 L124.0,367.9 L128.0,364.0 L133.8,385.0 L112.8,379.2 L116.8,375.2 L102.8,361.2Z"/><path d="M118.6,353.9 L132.6,367.9 L136.5,364.0 L142.4,385.0 L121.3,379.2 L125.3,375.2 L111.3,361.2Z"/><path d="M142.3,350.6 L142.3,370.4 L147.9,370.4 L137.2,389.4 L126.4,370.4 L132.0,370.4 L132.0,350.6Z"/><path d="M156.6,344.1 L150.5,363.0 L155.8,364.7 L139.7,379.5 L135.4,358.1 L140.7,359.8 L146.8,341.0Z"/><path d="M167.1,334.6 L158.8,352.5 L163.8,354.9 L146.1,367.6 L144.3,345.8 L149.4,348.2 L157.8,330.2Z"/><path d="M174.0,325.8 L164.1,342.9 L168.9,345.7 L150.1,356.8 L150.3,335.0 L155.1,337.8 L165.0,320.6Z"/><path d="M182.8,335.5 L176.0,354.1 L181.3,356.1 L164.7,370.2 L161.1,348.7 L166.4,350.6 L173.1,332.0Z"/><path d="M184.3,340.9 L185.0,360.7 L190.6,360.5 L180.5,379.9 L169.1,361.3 L174.7,361.1 L174.0,341.3Z"/><path d="M190.8,340.1 L193.6,359.7 L199.1,358.9 L191.1,379.2 L177.8,361.9 L183.4,361.1 L180.6,341.5Z"/><path d="M195.1,339.4 L201.9,358.0 L207.2,356.1 L203.6,377.6 L187.0,363.5 L192.2,361.5 L185.5,342.9Z"/><path d="M196.0,354.2 L209.5,368.7 L213.6,364.9 L218.7,386.1 L197.9,379.5 L202.0,375.7 L188.5,361.2Z"/><path d="M194.0,373.9 L212.9,368.2 L211.2,362.8 L232.6,367.5 L217.5,383.4 L215.9,378.0 L197.0,383.8Z"/><path d="M217.4,389.4 L217.4,369.6 L211.8,369.6 L222.5,350.6 L233.3,369.6 L227.7,369.6 L227.7,389.4Z"/><path d="M225.9,380.4 L225.9,360.6 L220.3,360.6 L231.1,341.6 L241.8,360.6 L236.2,360.6 L236.2,380.4Z"/><path d="M234.5,379.4 L234.5,359.6 L228.9,359.6 L239.6,340.6 L250.4,359.6 L244.8,359.6 L244.8,379.4Z"/><path d="M250.6,371.3 L243.2,353.0 L238.0,355.1 L240.9,333.4 L258.0,347.0 L252.8,349.1 L260.2,367.5Z"/><path d="M266.2,350.7 L252.6,336.2 L248.6,340.0 L243.5,318.8 L264.3,325.4 L260.2,329.2 L273.7,343.7Z"/><path d="M275.3,339.8 L261.3,325.8 L257.3,329.7 L251.5,308.7 L272.5,314.5 L268.6,318.5 L282.6,332.5Z"/><path d="M283.8,340.2 L269.8,326.2 L265.9,330.1 L260.0,309.1 L281.1,314.9 L277.1,318.9 L291.1,332.9Z"/><path d="M322.6,346.7 L305.1,337.4 L302.5,342.3 L290.8,323.9 L312.6,323.3 L310.0,328.3 L327.4,337.6Z"/><path d="M331.7,356.6 L314.9,346.2 L311.9,350.9 L301.5,331.7 L323.3,332.7 L320.3,337.4 L337.1,347.9Z"/><path d="M340.2,357.6 L323.4,347.2 L320.4,351.9 L310.0,332.7 L331.8,333.7 L328.9,338.4 L345.7,348.9Z"/><path d="M314.8,335.7 L296.8,327.3 L294.5,332.4 L281.8,314.6 L303.5,312.9 L301.2,318.0 L319.1,326.3Z"/><path d="M298.6,326.0 L280.1,318.9 L278.1,324.1 L264.2,307.2 L285.8,304.0 L283.8,309.2 L302.3,316.3Z"/><path d="M306.7,325.9 L288.4,318.2 L286.3,323.3 L273.0,306.0 L294.7,303.5 L292.5,308.7 L310.7,316.4Z"/><path d="M340.4,363.8 L329.1,347.6 L324.5,350.8 L322.4,329.1 L342.1,338.5 L337.5,341.7 L348.9,357.9Z"/><path d="M351.8,370.5 L338.1,356.3 L334.0,360.2 L328.6,339.0 L349.5,345.2 L345.5,349.1 L359.2,363.4Z"/><path d="M357.2,388.0 L346.1,371.5 L341.4,374.7 L339.7,352.9 L359.3,362.7 L354.6,365.8 L365.7,382.2Z"/><path d="M365.7,390.0 L354.6,373.5 L350.0,376.7 L348.3,354.9 L367.8,364.7 L363.2,367.8 L374.2,384.2Z"/><path d="M374.6,389.8 L363.2,373.6 L358.6,376.8 L356.5,355.1 L376.2,364.5 L371.6,367.7 L383.0,383.9Z"/><path d="M386.6,389.7 L372.3,375.9 L368.4,380.0 L362.2,359.0 L383.4,364.5 L379.5,368.5 L393.7,382.3Z"/><path d="M400.6,374.3 L382.3,366.6 L380.2,371.7 L366.9,354.4 L388.6,351.9 L386.4,357.1 L404.6,364.8Z"/><path d="M411.2,371.1 L391.8,367.0 L390.6,372.4 L374.3,358.0 L395.1,351.4 L393.9,356.9 L413.3,361.0Z"/><path d="M421.0,368.2 L401.2,367.5 L401.0,373.1 L382.4,361.7 L401.8,351.6 L401.6,357.2 L421.4,357.9Z"/><path d="M429.9,357.0 L410.1,357.7 L410.3,363.3 L390.9,353.2 L409.6,341.8 L409.8,347.4 L429.5,346.7Z"/><path d="M438.9,353.0 L419.8,358.1 L421.3,363.5 L400.1,358.0 L415.7,342.7 L417.1,348.1 L436.3,343.0Z"/><path d="M447.2,349.5 L429.2,357.8 L431.6,362.9 L409.8,361.2 L422.5,343.4 L424.9,348.5 L442.8,340.1Z"/><path d="M454.8,345.1 L438.6,356.4 L441.8,361.0 L420.0,363.1 L429.4,343.4 L432.7,348.0 L448.9,336.7Z"/><path d="M461.5,341.6 L448.0,356.1 L452.1,359.9 L431.2,366.5 L436.3,345.3 L440.4,349.1 L453.9,334.6Z"/><path d="M465.1,353.9 L457.6,372.3 L462.8,374.4 L445.7,388.0 L442.9,366.3 L448.1,368.4 L455.5,350.1Z"/><path d="M468.4,351.1 L466.6,370.8 L472.2,371.3 L459.9,389.3 L450.8,369.5 L456.4,369.9 L458.1,350.2Z"/><path d="M466.5,350.2 L474.9,368.2 L480.0,365.8 L478.3,387.6 L460.5,374.9 L465.6,372.5 L457.2,354.6Z"/><path d="M468.5,358.6 L482.5,372.6 L486.5,368.7 L492.3,389.7 L471.3,383.9 L475.3,379.9 L461.3,365.9Z"/><path d="M476.2,362.6 L490.9,375.8 L494.6,371.7 L501.6,392.4 L480.3,387.7 L484.0,383.5 L469.3,370.2Z"/><path d="M483.6,366.0 L499.2,378.2 L502.6,373.8 L511.0,393.9 L489.4,390.7 L492.8,386.3 L477.2,374.1Z"/><path d="M489.5,367.3 L507.0,376.6 L509.6,371.7 L521.4,390.1 L499.5,390.7 L502.2,385.7 L484.7,376.4Z"/><path d="M495.2,370.3 L514.4,375.1 L515.7,369.7 L531.6,384.7 L510.5,390.5 L511.9,385.1 L492.7,380.3Z"/><path d="M501.9,374.4 L521.7,374.4 L521.7,368.8 L540.7,379.5 L521.7,390.2 L521.7,384.6 L501.9,384.6Z"/><path d="M510.4,374.4 L530.2,374.4 L530.2,368.8 L549.2,379.5 L530.2,390.2 L530.2,384.6 L510.4,384.6Z"/><path d="M537.3,350.0 L543.4,368.8 L548.7,367.1 L544.4,388.5 L528.3,373.7 L533.6,372.0 L527.5,353.1Z"/><path d="M566.9,353.7 L547.4,357.1 L548.4,362.7 L527.8,355.4 L544.6,341.5 L545.6,347.0 L565.1,343.6Z"/><path d="M575.0,340.4 L557.5,349.7 L560.1,354.7 L538.3,354.1 L550.0,335.7 L552.7,340.6 L570.1,331.3Z"/><path d="M581.2,325.6 L567.4,339.9 L571.4,343.8 L550.5,350.0 L556.0,328.8 L560.0,332.7 L573.7,318.5Z"/><path d="M589.3,322.4 L576.1,337.1 L580.2,340.9 L559.5,347.8 L564.3,326.5 L568.4,330.3 L581.7,315.5Z"/><path d="M592.2,343.6 L585.8,362.4 L591.1,364.2 L574.7,378.6 L570.8,357.2 L576.0,359.0 L582.5,340.3Z"/><path d="M599.6,342.0 L594.5,361.1 L599.9,362.6 L584.6,378.1 L579.1,357.0 L584.5,358.5 L589.6,339.3Z"/><path d="M603.9,341.8 L603.2,361.6 L608.8,361.8 L597.4,380.4 L587.4,361.0 L593.0,361.2 L593.6,341.4Z"/><path d="M611.8,351.2 L611.8,371.0 L617.4,371.0 L606.7,390.0 L595.9,371.0 L601.5,371.0 L601.5,351.2Z"/><path d="M620.3,351.2 L620.3,371.0 L625.9,371.0 L615.2,390.0 L604.4,371.0 L610.0,371.0 L610.0,351.2Z"/><path d="M617.5,356.9 L628.3,373.5 L633.0,370.5 L634.3,392.3 L614.9,382.2 L619.6,379.1 L608.8,362.5Z"/><path d="M623.4,357.6 L636.9,372.1 L641.0,368.3 L646.1,389.5 L625.3,382.9 L629.4,379.1 L615.9,364.6Z"/><path d="M631.3,371.8 L644.8,386.3 L648.9,382.5 L654.0,403.7 L633.2,397.1 L637.3,393.3 L623.8,378.8Z"/><path d="M642.1,370.4 L654.6,385.8 L658.9,382.2 L662.5,403.8 L642.2,395.8 L646.6,392.3 L634.1,376.9Z"/><path d="M647.0,374.9 L666.8,374.9 L666.8,369.2 L685.8,380.0 L666.8,390.8 L666.8,385.1 L647.0,385.1Z"/><path d="M647.0,374.9 L666.8,374.9 L666.8,369.2 L685.8,380.0 L666.8,390.8 L666.8,385.1 L647.0,385.1Z"/><path d="M669.8,380.0 L669.8,360.2 L664.2,360.2 L674.9,341.2 L685.7,360.2 L680.1,360.2 L680.1,380.0Z"/><path d="M703.5,348.9 L684.0,352.3 L684.9,357.9 L664.4,350.6 L681.2,336.7 L682.2,342.2 L701.7,338.8Z"/><path d="M711.8,340.5 L693.8,348.8 L696.2,353.9 L674.4,352.2 L687.1,334.4 L689.5,339.5 L707.4,331.1Z"/><path d="M719.4,335.1 L703.2,346.4 L706.4,351.0 L684.7,353.1 L694.1,333.4 L697.3,338.0 L713.5,326.7Z"/><path d="M726.4,331.4 L712.4,345.4 L716.4,349.4 L695.4,355.2 L701.2,334.2 L705.2,338.1 L719.2,324.1Z"/><path d="M735.0,342.9 L721.0,356.9 L724.9,360.9 L703.9,366.7 L709.7,345.7 L713.7,349.6 L727.7,335.6Z"/><path d="M743.5,342.1 L729.5,356.1 L733.5,360.1 L712.4,365.9 L718.3,344.9 L722.2,348.8 L736.2,334.8Z"/><path d="M752.0,342.1 L738.0,356.1 L742.0,360.1 L721.0,365.9 L726.8,344.9 L730.8,348.8 L744.8,334.8Z"/><path d="M762.6,365.1 L742.8,365.1 L742.8,370.8 L723.8,360.0 L742.8,349.2 L742.8,354.9 L762.6,354.9Z"/><path d="M737.6,384.2 L747.5,367.1 L742.6,364.3 L761.5,353.2 L761.3,375.0 L756.4,372.2 L746.5,389.4Z"/><path d="M741.5,383.1 L754.7,368.4 L750.6,364.6 L771.3,357.7 L766.6,379.0 L762.4,375.2 L749.1,390.0Z"/><path d="M752.0,390.2 L765.3,375.5 L761.1,371.7 L781.8,364.8 L777.1,386.1 L772.9,382.3 L759.7,397.1Z"/><path d="M769.2,387.2 L777.9,369.4 L772.9,366.9 L790.9,354.6 L792.2,376.4 L787.2,373.9 L778.5,391.7Z"/><path d="M773.3,386.1 L781.4,368.0 L776.2,365.8 L793.8,352.8 L795.9,374.5 L790.8,372.2 L782.7,390.3Z"/><path d="M796.6,380.0 L789.5,361.5 L784.3,363.5 L787.5,341.9 L804.3,355.8 L799.1,357.8 L806.2,376.3Z"/><path d="M812.7,369.7 L799.0,355.5 L795.0,359.4 L789.5,338.2 L810.4,344.4 L806.4,348.3 L820.2,362.6Z"/><path d="M825.2,364.0 L810.7,350.5 L806.9,354.6 L800.3,333.8 L821.5,338.9 L817.7,343.0 L832.2,356.5Z"/><path d="M833.0,357.3 L816.8,346.0 L813.6,350.6 L804.2,330.9 L825.9,333.0 L822.7,337.6 L838.9,348.9Z"/><path d="M845.0,348.5 L826.4,341.7 L824.5,347.0 L810.4,330.4 L831.9,326.8 L830.0,332.0 L848.6,338.8Z"/><path d="M856.6,336.6 L836.8,337.0 L836.9,342.6 L817.7,332.1 L836.5,321.1 L836.6,326.7 L856.4,326.3Z"/><path d="M871.7,344.5 L877.8,363.3 L883.1,361.6 L878.8,383.0 L862.7,368.2 L868.0,366.5 L861.9,347.6Z"/><path d="M865.1,345.9 L845.3,345.9 L845.3,351.6 L826.3,340.8 L845.3,330.1 L845.3,335.7 L865.1,335.7Z"/><path d="M873.6,355.9 L853.8,355.9 L853.8,361.6 L834.8,350.8 L853.8,340.1 L853.8,345.7 L873.6,345.7Z"/><path d="M890.4,360.7 L892.5,380.4 L898.1,379.8 L889.4,399.8 L876.7,382.0 L882.3,381.4 L880.2,361.7Z"/><path d="M882.1,364.4 L862.3,364.4 L862.3,370.1 L843.3,359.3 L862.3,348.6 L862.3,354.2 L882.1,354.2Z"/><path d="M890.7,364.9 L870.9,364.9 L870.9,370.6 L851.9,359.8 L870.9,349.1 L870.9,354.7 L890.7,354.7Z"/><path d="M891.0,399.5 L891.7,379.7 L886.1,379.5 L897.5,360.9 L907.6,380.3 L902.0,380.1 L901.3,399.9Z"/><path d="M894.5,396.9 L900.6,378.0 L895.3,376.3 L911.4,361.5 L915.7,382.9 L910.4,381.2 L904.3,400.0Z"/><path d="M908.8,399.0 L908.8,379.2 L903.2,379.2 L913.9,360.2 L924.7,379.2 L919.1,379.2 L919.1,399.0Z"/><path d="M925.3,398.5 L917.6,380.2 L912.4,382.4 L914.9,360.7 L932.2,374.0 L927.1,376.2 L934.8,394.4Z"/><path d="M942.2,384.4 L928.9,369.6 L924.8,373.4 L920.0,352.1 L940.7,359.0 L936.6,362.8 L949.8,377.5Z"/><path d="M952.2,378.1 L936.2,366.4 L932.9,371.0 L923.8,351.1 L945.5,353.6 L942.2,358.1 L958.3,369.7Z"/><path d="M963.5,371.9 L945.5,363.5 L943.2,368.6 L930.5,350.8 L952.3,349.1 L949.9,354.2 L967.8,362.5Z"/><path d="M973.7,364.1 L954.7,358.3 L953.1,363.7 L938.1,347.8 L959.4,343.1 L957.7,348.5 L976.7,354.2Z"/><path d="M983.6,353.3 L964.0,350.5 L963.3,356.1 L945.9,342.8 L966.3,334.8 L965.5,340.3 L985.1,343.1Z"/><path d="M993.8,340.0 L974.6,345.1 L976.1,350.5 L954.9,345.0 L970.5,329.7 L972.0,335.1 L991.1,330.0Z"/><path d="M1001.8,348.4 L984.3,357.7 L986.9,362.7 L965.1,362.1 L976.8,343.7 L979.5,348.6 L996.9,339.3Z"/><path d="M1008.9,351.5 L993.8,364.2 L997.4,368.5 L975.9,372.5 L983.5,352.0 L987.1,356.3 L1002.3,343.6Z"/><path d="M1014.6,354.9 L1003.3,371.1 L1007.9,374.3 L988.2,383.7 L990.3,362.0 L994.8,365.2 L1006.2,349.0Z"/><path d="M1017.8,360.1 L1012.7,379.2 L1018.1,380.7 L1002.8,396.2 L997.3,375.1 L1002.8,376.6 L1007.9,357.4Z"/><path d="M1022.1,359.7 L1022.1,379.5 L1027.7,379.5 L1017.0,398.5 L1006.2,379.5 L1011.8,379.5 L1011.8,359.7Z"/></g>
</svg></body></html>
